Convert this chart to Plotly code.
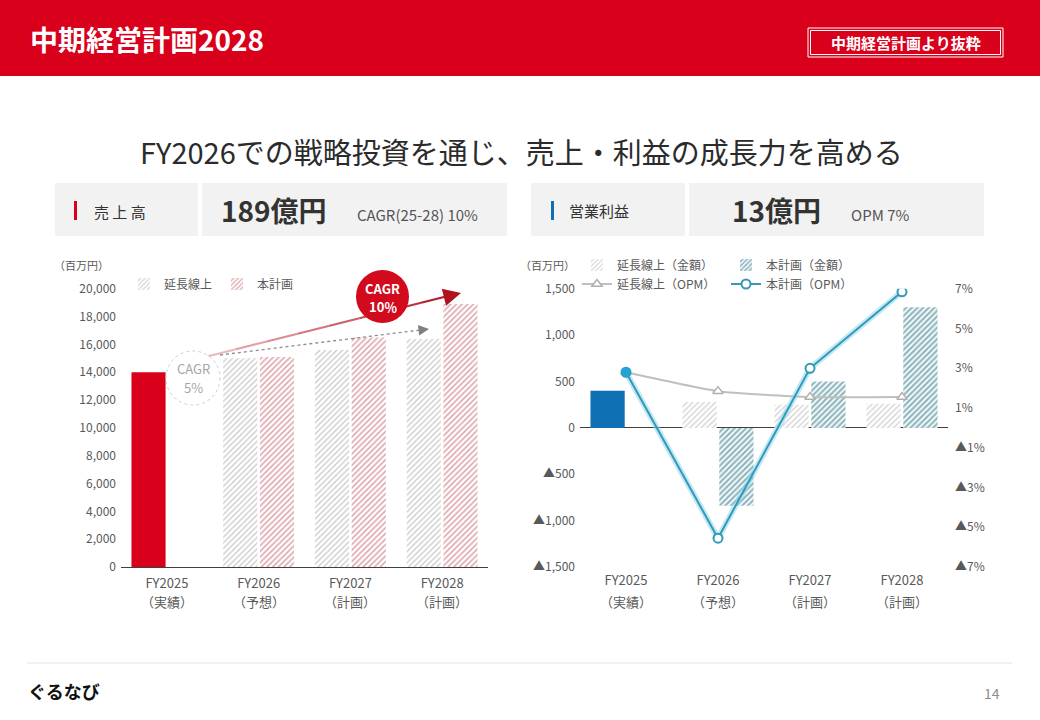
import plotly.graph_objects as go

# ---- data ----
years = ["FY2025", "FY2026", "FY2027", "FY2028"]
year_notes = ["（実績）", "（予想）", "（計画）", "（計画）"]

sales_actual = [14000, None, None, None]
sales_ext = [None, 15000, 15600, 16400]
sales_plan = [None, 15100, 16500, 18900]

op_actual = [400, None, None, None]
op_ext = [None, 280, 250, 260]
op_plan = [None, -840, 500, 1300]

opm_ext = [2.8, 1.85, 1.55, 1.55]
opm_plan = [2.8, -5.55, 3.0, 6.85]

sales_ticks = list(range(0, 20001, 2000))
op_ticks = [-1500, -1000, -500, 0, 500, 1000, 1500]
op_ticktext = ["▲1,500", "▲1,000", "▲500", "0", "500", "1,000", "1,500"]
opm_ticks = [-7, -5, -3, -1, 1, 3, 5, 7]
opm_ticktext = ["▲7%", "▲5%", "▲3%", "▲1%", "1%", "3%", "5%", "7%"]

RED = "#d9001b"
BLUE = "#0f6fb3"
TEAL = "#3399b5"
FONT = "Noto Sans CJK JP"
W, H = 1040, 720


def px(x):
    return x / W


def py(y):
    return 1 - y / H


fig = go.Figure()

# ---- left chart: sales ----
fig.add_trace(go.Bar(x=years, y=sales_actual, offsetgroup="a", marker_color=RED,
                     marker_line_width=0, showlegend=False, xaxis="x", yaxis="y"))
fig.add_trace(go.Bar(x=years, y=sales_ext, name="延長線上", offsetgroup="a",
                     marker=dict(color="#8f8f8f", line_width=0,
                                 pattern=dict(shape="/", fgcolor="#8f8f8f", bgcolor="white",
                                              size=4, solidity=0.3)),
                     legend="legend", xaxis="x", yaxis="y"))
fig.add_trace(go.Bar(x=years, y=sales_plan, name="本計画", offsetgroup="b",
                     marker=dict(color="#bd4f5c", line_width=0,
                                 pattern=dict(shape="/", fgcolor="#bd4f5c", bgcolor="white",
                                              size=4, solidity=0.4)),
                     legend="legend", xaxis="x", yaxis="y"))

# ---- right chart: operating profit ----
fig.add_trace(go.Bar(x=years, y=op_actual, offsetgroup="c", marker_color=BLUE,
                     marker_line_width=0, showlegend=False, xaxis="x2", yaxis="y2"))
fig.add_trace(go.Bar(x=years, y=op_ext, name="延長線上（金額）", offsetgroup="c",
                     marker=dict(color="#a0a0a0", line_width=0,
                                 pattern=dict(shape="/", fgcolor="#a0a0a0", bgcolor="white",
                                              size=4, solidity=0.3)),
                     legend="legend2", xaxis="x2", yaxis="y2"))
fig.add_trace(go.Bar(x=years, y=op_plan, name="本計画（金額）", offsetgroup="d",
                     marker=dict(color="#1f6f7d", line_width=0,
                                 pattern=dict(shape="/", fgcolor="#1f6f7d", bgcolor="white",
                                              size=4, solidity=0.55)),
                     legend="legend2", xaxis="x2", yaxis="y2"))

fig.add_trace(go.Scatter(x=years, y=opm_ext, name="延長線上（OPM）", mode="lines+markers",
                         line=dict(color="#bfbfbf", width=2, shape="spline", smoothing=0.5),
                         marker=dict(symbol="triangle-up", size=9, color="white",
                                     line=dict(color="#b0b0b0", width=1.5)),
                         legend="legend3", xaxis="x2", yaxis="y3"))
fig.add_trace(go.Scatter(x=years, y=opm_plan, mode="lines", showlegend=False,
                         line=dict(color="rgba(140,215,240,0.55)", width=6),
                         hoverinfo="skip", xaxis="x2", yaxis="y3"))
fig.add_trace(go.Scatter(x=years, y=opm_plan, name="本計画（OPM）", mode="lines+markers",
                         line=dict(color=TEAL, width=2),
                         marker=dict(symbol="circle", size=9, color="white",
                                     line=dict(color=TEAL, width=2)),
                         legend="legend3", xaxis="x2", yaxis="y3"))
fig.add_trace(go.Scatter(x=years[:1], y=opm_plan[:1], mode="markers", showlegend=False,
                         marker=dict(symbol="circle", size=10, color="#22a3d4"),
                         xaxis="x2", yaxis="y3"))

tickfont = dict(family=FONT, size=12, color="#595959")
xtickfont = dict(family=FONT, size=13, color="#595959")
ydom = [py(567), py(288.8)]

legend_common = dict(orientation="h", bgcolor="rgba(0,0,0,0)", xanchor="left",
                     yanchor="middle", font=dict(family=FONT, size=12, color="#595959"),
                     itemwidth=30)

fig.update_layout(
    width=W, height=H,
    margin=dict(l=0, r=0, t=0, b=0, autoexpand=False),
    paper_bgcolor="white", plot_bgcolor="rgba(0,0,0,0)",
    font=dict(family=FONT, color="#595959"),
    barmode="group", bargap=0.2, bargroupgap=0.07,
    xaxis=dict(domain=[px(121), px(488)], anchor="y", showline=True, linecolor="#404040",
               linewidth=1.2, ticks="", tickfont=xtickfont, ticklabelstandoff=4,
               showgrid=False, automargin=False),
    yaxis=dict(domain=ydom, anchor="x", range=[0, 20000], tickvals=sales_ticks,
               tickformat=",d", tickfont=tickfont, showgrid=False, zeroline=False,
               showline=False, ticklabelstandoff=4, automargin=False),
    xaxis2=dict(domain=[px(580), px(948)], anchor="y2", showline=False, ticks="",
                tickfont=xtickfont, ticklabelstandoff=4, showgrid=False,
                automargin=False),
    yaxis2=dict(domain=ydom, anchor="x2", range=[-1500, 1500], tickvals=op_ticks,
                ticktext=op_ticktext, tickfont=tickfont, showgrid=False, zeroline=True,
                zerolinecolor="#404040", zerolinewidth=1.2, ticklabelstandoff=4,
                automargin=False),
    yaxis3=dict(overlaying="y2", anchor="x2", side="right", range=[-7, 7],
                tickvals=opm_ticks, ticktext=opm_ticktext, tickfont=tickfont,
                showgrid=False, zeroline=False, ticklabelstandoff=6, automargin=False),
    legend=dict(legend_common, x=px(124), y=py(284), entrywidth=48),
    legend2=dict(legend_common, x=px(577), y=py(265), entrywidth=104),
    legend3=dict(legend_common, x=px(577), y=py(284), entrywidth=104),
)

shapes = []
annotations = []


def text(txt, x, y, size, color, xanchor="center", bold=False):
    annotations.append(dict(text=f"<b>{txt}</b>" if bold else txt, x=px(x), y=py(y),
                            xref="paper", yref="paper", xanchor=xanchor, yanchor="middle",
                            showarrow=False, font=dict(family=FONT, size=size, color=color)))


# second line of the category labels
for xr in ("x", "x2"):
    for yr, note in zip(years, year_notes):
        annotations.append(dict(text=note, x=yr, xref=xr, y=py(601), yref="paper",
                                xanchor="center", yanchor="middle", showarrow=False,
                                font=xtickfont))

# header
shapes.append(dict(type="rect", xref="paper", yref="paper", x0=0, x1=1, y0=py(76), y1=1,
                   fillcolor=RED, line_width=0, layer="below"))
shapes.append(dict(type="rect", xref="paper", yref="paper", x0=px(808), x1=px(1003),
                   y0=py(57), y1=py(28), line=dict(color="white", width=1)))
shapes.append(dict(type="rect", xref="paper", yref="paper", x0=px(810.5), x1=px(1000.5),
                   y0=py(54.5), y1=py(30.5), line=dict(color="white", width=1)))
text("中期経営計画2028", 28, 39, 28, "white", "left", True)
text("中期経営計画より抜粋", 905.5, 42.5, 15, "white", bold=True)

# subtitle
text("FY2026での戦略投資を通じ、売上・利益の成長力を高める", 521, 151, 29, "#2b2b2b")

# KPI panels
for x0, x1 in [(55, 198), (202, 507), (531, 685), (689, 984)]:
    shapes.append(dict(type="rect", xref="paper", yref="paper", x0=px(x0), x1=px(x1),
                       y0=py(236), y1=py(183), fillcolor="#f2f2f2", line_width=0,
                       layer="below"))
shapes.append(dict(type="rect", xref="paper", yref="paper", x0=px(74), x1=px(77),
                   y0=py(220), y1=py(201), fillcolor=RED, line_width=0))
shapes.append(dict(type="rect", xref="paper", yref="paper", x0=px(551), x1=px(554),
                   y0=py(220), y1=py(201), fillcolor=BLUE, line_width=0))

text("売 上 高", 92, 211, 15, "#333333", "left")
text("189億円", 219, 210, 28, "#333333", "left", True)
text("CAGR(25-28) 10%", 355, 214, 15, "#555555", "left")
text("営業利益", 567, 210, 15, "#333333", "left")
text("13億円", 730, 210, 28, "#333333", "left", True)
text("OPM 7%", 849, 214, 15, "#555555", "left")

# unit labels
text("（百万円）", 52, 265, 11, "#595959", "left")
text("（百万円）", 518, 265, 11, "#595959", "left")

# CAGR arrows (left chart)
sx, sy, ex, ey = 205, 357, 452, 295
n = 8
c0, c1 = (240, 196, 200), (176, 18, 31)
for i in range(n):
    t0, t1 = i / n, (i + 1) / n
    c = tuple(int(c0[k] + (c1[k] - c0[k]) * (t0 + t1) / 2) for k in range(3))
    shapes.append(dict(type="line", xref="paper", yref="paper",
                       x0=px(sx + (ex - sx) * t0), y0=py(sy + (ey - sy) * t0),
                       x1=px(sx + (ex - sx) * t1), y1=py(sy + (ey - sy) * t1),
                       line=dict(color="rgb(%d,%d,%d)" % c, width=2.2)))
annotations.append(dict(x=px(461), y=py(293), ax=-15, ay=3.8, xref="paper",
                        yref="paper", axref="pixel", ayref="pixel", text="", showarrow=True,
                        arrowhead=2, arrowsize=1.6, arrowwidth=2.2, arrowcolor="#b0121f"))
shapes.append(dict(type="line", xref="paper", yref="paper", x0=px(220), y0=py(355),
                   x1=px(422), y1=py(329.8), line=dict(color="#8c8c8c", width=1.3, dash="dot")))
annotations.append(dict(x=px(429), y=py(329), ax=-9, ay=1.1, xref="paper",
                        yref="paper", axref="pixel", ayref="pixel", text="", showarrow=True,
                        arrowhead=2, arrowsize=1.4, arrowwidth=1.5, arrowcolor="#808080"))

# CAGR circles
shapes.append(dict(type="circle", xref="paper", yref="paper", x0=px(166), x1=px(220),
                   y0=py(405), y1=py(351), fillcolor="white",
                   line=dict(color="#cfcfcf", width=1, dash="dot")))
text("CAGR", 193, 369, 13, "#a6a6a6")
text("5%", 193, 387, 13, "#a6a6a6")
shapes.append(dict(type="circle", xref="paper", yref="paper", x0=px(356), x1=px(409),
                   y0=py(323), y1=py(270), fillcolor="#d20a1e", line_width=0))
text("CAGR", 382.5, 288, 13, "white", bold=True)
text("10％", 382.5, 306, 13, "white", bold=True)

# footer
shapes.append(dict(type="line", xref="paper", yref="paper", x0=px(27), x1=px(1012),
                   y0=py(663), y1=py(663), line=dict(color="#e3e3e3", width=1)))
text("ぐるなび", 26, 691, 18, "#111111", "left", True)
text("14", 1002, 693, 14, "#8c8c8c", "right")

fig.update_layout(shapes=shapes, annotations=annotations)

fig.write_html("out.html", config={"displayModeBar": False},
               post_script="document.body.style.margin='0';")
